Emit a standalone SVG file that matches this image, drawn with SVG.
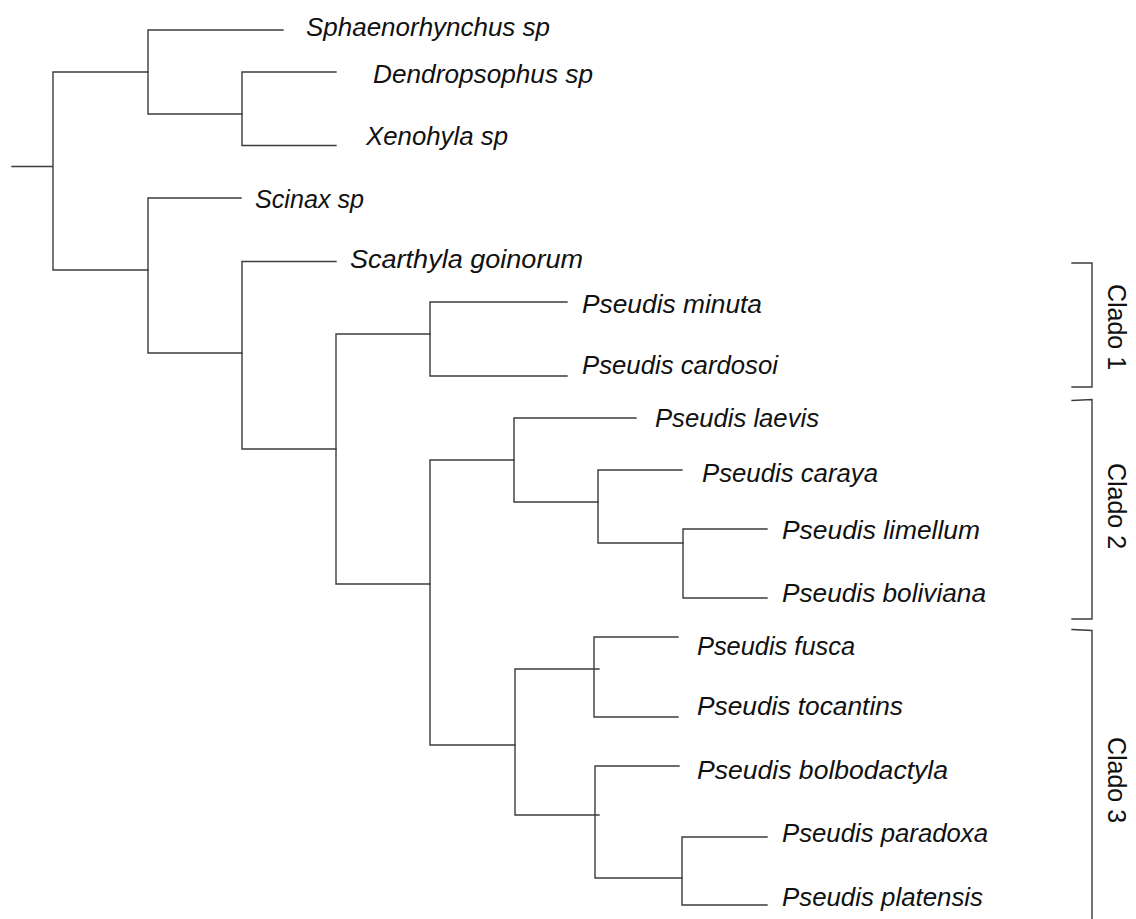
<svg xmlns="http://www.w3.org/2000/svg" width="1136" height="919" viewBox="0 0 1136 919">
<style>
.br{fill:none;stroke:#3c3c3c;stroke-width:1.4;stroke-linecap:square}
.tx{font-family:"Liberation Sans",Arial,sans-serif;font-style:italic;font-size:25px;fill:#111}
.cl{font-family:"Liberation Sans",Arial,sans-serif;font-size:25px;fill:#111;text-anchor:middle}
</style>
<rect width="1136" height="919" fill="#fff"/>
<g id="connectors" class="br">
<path d="M12,166.5H53M53,72V270M53,72H148M53,270H148"/>
<path d="M148,30V114M148,30H283M148,114H242"/>
<path d="M242,72V145.5M242,72H336M242,145.5H336"/>
<path d="M148,198V353M148,198H241M148,353H242"/>
<path d="M242,261.5V449M242,261.5H336M242,449H336"/>
<path d="M336,334V584M336,334H430M336,584H430"/>
<path d="M430,302V376M430,302H567M430,376H567"/>
<path d="M430,460V745M430,460H514M430,745H515"/>
<path d="M514,418V502M514,418H636M514,502H598"/>
<path d="M598,470V543M598,470H682M598,543H683"/>
<path d="M683,529V598M683,529H767M683,598H767"/>
<path d="M515,669V815M515,669H599M515,815H599"/>
<path d="M594,637V717M594,637H678M594,717H678"/>
<path d="M595,766V878M595,766H679M595,878H682"/>
<path d="M682,837V905M682,837H767M682,905H767"/>
</g>
<g id="sphaenorhynchus"><text class="tx" x="306" y="36" textLength="244" lengthAdjust="spacingAndGlyphs">Sphaenorhynchus sp</text></g>
<g id="dendropsophus"><text class="tx" x="373" y="83" textLength="220" lengthAdjust="spacingAndGlyphs">Dendropsophus sp</text></g>
<g id="xenohyla"><text class="tx" x="366" y="145" textLength="142" lengthAdjust="spacingAndGlyphs">Xenohyla sp</text></g>
<g id="scinax"><text class="tx" x="255" y="208" textLength="109" lengthAdjust="spacingAndGlyphs">Scinax sp</text></g>
<g id="scarthyla"><text class="tx" x="350" y="268" textLength="233" lengthAdjust="spacingAndGlyphs">Scarthyla goinorum</text></g>
<g id="minuta"><text class="tx" x="582" y="313" textLength="180" lengthAdjust="spacingAndGlyphs">Pseudis minuta</text></g>
<g id="cardosoi"><text class="tx" x="582" y="374" textLength="196" lengthAdjust="spacingAndGlyphs">Pseudis cardosoi</text></g>
<g id="laevis"><text class="tx" x="655" y="427" textLength="164" lengthAdjust="spacingAndGlyphs">Pseudis laevis</text></g>
<g id="caraya"><text class="tx" x="702" y="482" textLength="176" lengthAdjust="spacingAndGlyphs">Pseudis caraya</text></g>
<g id="limellum"><text class="tx" x="782" y="539" textLength="198" lengthAdjust="spacingAndGlyphs">Pseudis limellum</text></g>
<g id="boliviana"><text class="tx" x="782" y="602" textLength="204" lengthAdjust="spacingAndGlyphs">Pseudis boliviana</text></g>
<g id="fusca"><text class="tx" x="697" y="655" textLength="158" lengthAdjust="spacingAndGlyphs">Pseudis fusca</text></g>
<g id="tocantins"><text class="tx" x="697" y="715" textLength="206" lengthAdjust="spacingAndGlyphs">Pseudis tocantins</text></g>
<g id="bolbodactyla"><text class="tx" x="697" y="779" textLength="251" lengthAdjust="spacingAndGlyphs">Pseudis bolbodactyla</text></g>
<g id="paradoxa"><text class="tx" x="782" y="842" textLength="206" lengthAdjust="spacingAndGlyphs">Pseudis paradoxa</text></g>
<g id="platensis"><text class="tx" x="782" y="906" textLength="201" lengthAdjust="spacingAndGlyphs">Pseudis platensis</text></g>
<g id="clado1"><path class="br" d="M1072,263H1092V387H1072"/><text class="cl" transform="translate(1108,327) rotate(90)">Clado 1</text></g>
<g id="clado2"><path class="br" d="M1072,400.5L1092,399.5V619H1072"/><text class="cl" transform="translate(1108,506) rotate(90)">Clado 2</text></g>
<g id="clado3"><path class="br" d="M1072,629.5L1092,630.5V925"/><text class="cl" transform="translate(1108,780) rotate(90)">Clado 3</text></g>
</svg>
